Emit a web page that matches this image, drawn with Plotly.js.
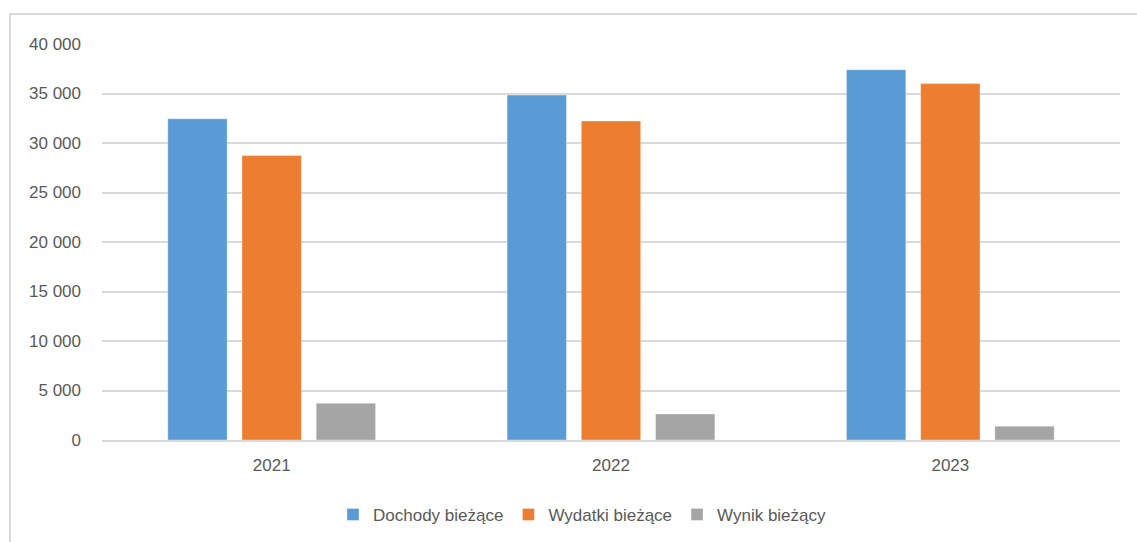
<!DOCTYPE html>
<html>
<head>
<meta charset="utf-8">
<script src="https://cdn.plot.ly/plotly-3.0.1.min.js"></script>
<style>
  html, body { margin: 0; padding: 0; background: #fff; overflow: hidden; }
  #chart { position: absolute; left: 0; top: 0; width: 1137px; height: 542px; }
  #frame { position: absolute; left: 9px; top: 13px; width: 1200px; height: 600px;
           border: 2px solid #d9d9d9; pointer-events: none; box-sizing: border-box; }
</style>
</head>
<body>
<div id="chart"></div>
<div id="frame"></div>
<script>
const years = ["2021", "2022", "2023"];
const dochody = [32450, 34840, 37400];
const wydatki = [28730, 32220, 36000];
const wynik = [3720, 2620, 1400];
const seriesNames = ["Dochody bieżące", "Wydatki bieżące", "Wynik bieżący"];
const colors = ["#5b9bd5", "#ed7d31", "#a5a5a5"];

const values = [dochody, wydatki, wynik];
const traces = values.map((v, i) => ({
  type: "bar",
  x: years,
  y: v,
  name: seriesNames[i],
  marker: { color: colors[i], line: { color: "rgba(255,255,255,0.35)", width: 1 } },
  hoverinfo: "none"
}));

const layout = {
  width: 1137,
  height: 542,
  margin: { l: 102, r: 17, t: 44, b: 102 },
  paper_bgcolor: "rgba(0,0,0,0)",
  plot_bgcolor: "#fff",
  separators: ", ",
  barmode: "group",
  bargap: 0.344,
  bargroupgap: 0.2,
  font: { family: "Liberation Sans, Arial, sans-serif", color: "#595959", size: 17 },
  xaxis: {
    type: "category",
    automargin: false,
    showgrid: false,
    showline: true,
    linecolor: "#d9d9d9",
    linewidth: 2,
    ticks: "",
    tickfont: { size: 17, color: "#595959" },
    ticklabelstandoff: 9
  },
  yaxis: {
    range: [0, 40000],
    automargin: false,
    tickvals: [0, 5000, 10000, 15000, 20000, 25000, 30000, 35000, 40000],
    tickformat: ",d",
    showgrid: true,
    gridcolor: "#d9d9d9",
    gridwidth: 2,
    zeroline: false,
    showline: false,
    ticks: "",
    tickfont: { size: 17, color: "#595959" },
    ticklabelstandoff: 20
  },
  showlegend: true,
  legend: {
    orientation: "h",
    xref: "paper",
    x: 0.472,
    xanchor: "center",
    yref: "container",
    y: 0.05,
    yanchor: "middle",
    font: { size: 17, color: "#595959" },
    itemwidth: 30,
    traceorder: "normal"
  }
};

Plotly.newPlot("chart", traces, layout, { displayModeBar: false, staticPlot: true });
</script>
</body>
</html>
